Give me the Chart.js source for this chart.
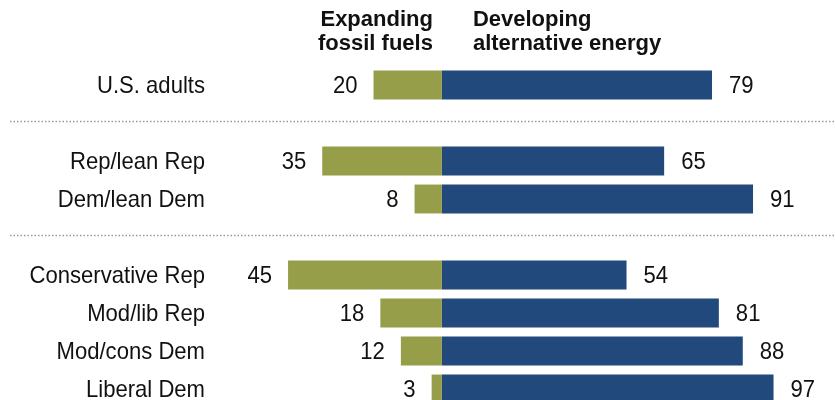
<!DOCTYPE html>
<html>
<head>
<meta charset="utf-8">
<script src="https://cdn.jsdelivr.net/npm/chart.js"></script>
<style>
  body { margin: 0; background: #fff; overflow: hidden; }
</style>
</head>
<body>
<canvas id="energyChart" width="835" height="420"></canvas>
<script>
// Groups, with blank slots where the dotted dividers go
const groups = ['U.S. adults', '', 'Rep/lean Rep', 'Dem/lean Dem', '',
                'Conservative Rep', 'Mod/lib Rep', 'Mod/cons Dem', 'Liberal Dem'];
const fossilFuels = [20, null, 35, 8, null, 45, 18, 12, 3];
const altEnergy = [79, null, 65, 91, null, 54, 81, 88, 97];
const headers = [['Expanding', 'fossil fuels'], ['Developing', 'alternative energy']];

const GREEN = '#969E4A';
const BLUE = '#21497C';
const FONT = '"Liberation Sans", Arial, sans-serif';

// narrow-looking text: tall glyphs squeezed horizontally
function squeezed(ctx, text, x, y, align) {
    ctx.save();
    ctx.translate(x, y);
    ctx.scale(0.92, 1);
    ctx.textAlign = align;
    ctx.fillText(text, 0, 0);
    ctx.restore();
}

// Labels, headers and dividers are painted after the bars
const annotate = {
    id: 'annotate',
    afterDatasetsDraw(chart) {
        const ctx = chart.ctx;
        const y = chart.scales.y;
        const x = chart.scales.x;
        const zero = x.getPixelForValue(0);
        ctx.save();
        ctx.fillStyle = '#111';
        ctx.textBaseline = 'middle';
        ctx.font = '24px ' + FONT;

        groups.forEach((g, i) => {
            if (!g) return;
            squeezed(ctx, g, 205, y.getPixelForValue(i) + 1, 'right');
        });

        chart.getDatasetMeta(0).data.forEach((bar, i) => {
            if (fossilFuels[i] == null) return;
            squeezed(ctx, String(fossilFuels[i]), bar.x - 16, bar.y + 1, 'right');
        });
        chart.getDatasetMeta(1).data.forEach((bar, i) => {
            if (altEnergy[i] == null) return;
            squeezed(ctx, String(altEnergy[i]), bar.x + 17, bar.y + 1, 'left');
        });

        // column headers
        ctx.font = 'bold 22px ' + FONT;
        ctx.textAlign = 'right';
        ctx.fillText(headers[0][0], zero - 9, 20);
        ctx.fillText(headers[0][1], zero - 9, 44);
        ctx.textAlign = 'left';
        ctx.fillText(headers[1][0], zero + 31, 20);
        ctx.fillText(headers[1][1], zero + 31, 44);

        // dotted dividers in the blank slots
        ctx.strokeStyle = '#9a9a9a';
        ctx.lineWidth = 1.5;
        ctx.setLineDash([1.5, 2]);
        groups.forEach((g, i) => {
            if (g) return;
            const cy = Math.round(y.getPixelForValue(i) - 2) + 0.5;
            ctx.beginPath();
            ctx.moveTo(10, cy);
            ctx.lineTo(835, cy);
            ctx.stroke();
        });
        ctx.restore();
    }
};

new Chart(document.getElementById('energyChart').getContext('2d'), {
    type: 'bar',
    data: {
        labels: groups,
        datasets: [
            {
                label: 'Expanding fossil fuels',
                data: fossilFuels.map(v => v == null ? null : -v),
                backgroundColor: GREEN
            },
            {
                label: 'Developing alternative energy',
                data: altEnergy,
                backgroundColor: BLUE
            }
        ]
    },
    options: {
        indexAxis: 'y',
        responsive: false,
        animation: false,
        categoryPercentage: 0.76,
        barPercentage: 1,
        layout: { padding: { left: 100, right: 17, top: 66, bottom: 12 } },
        plugins: { legend: { display: false }, tooltip: { enabled: false } },
        scales: {
            x: { stacked: true, min: -100, max: 110, display: false },
            y: { stacked: true, display: false }
        }
    },
    plugins: [annotate]
});
</script>
</body>
</html>
